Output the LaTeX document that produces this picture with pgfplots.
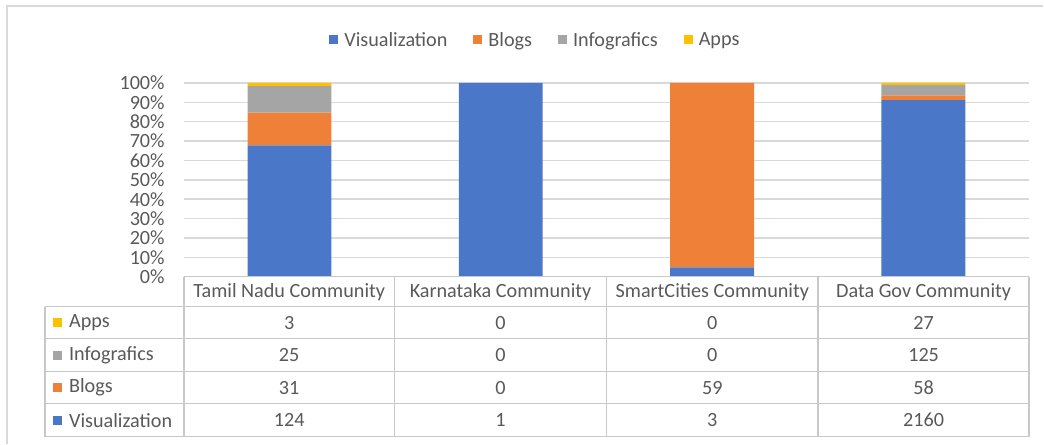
\documentclass[border=0pt]{standalone}
\usepackage{pgfplots}
\pgfplotsset{compat=1.18}
\usepackage{fontspec}
\setmainfont{Carlito}
\definecolor{cVis}{HTML}{4A77C8}
\definecolor{cBlog}{HTML}{EE8038}
\definecolor{cInfo}{HTML}{A5A5A5}
\definecolor{cApps}{HTML}{FFC000}
\definecolor{txt}{HTML}{595959}
\definecolor{gridc}{HTML}{D9D9D9}
\definecolor{tabc}{HTML}{C8C8C8}
\newcommand\fs{\fontsize{20.2}{23}\selectfont}
\begin{document}
\begin{tikzpicture}[x=1pt,y=1pt]
\path (0,0) rectangle (1044,444);
% outer frame (cropped on right and bottom)
\draw[gridc,line width=2pt] (7,0) -- (7,438) -- (1044,438);
\begin{axis}[
  at={(184pt,167pt)}, anchor=south west,
  scale only axis, width=846pt, height=194pt,
  xmin=-0.5, xmax=3.5, ymin=0, ymax=100,
  ybar stacked, bar width=84pt,
  xtick=\empty,
  ytick={0,10,...,100},
  yticklabel={\pgfmathprintnumber{\tick}\%},
  /pgf/number format/assume math mode=true,
  yticklabel style={font=\fs, text=txt, anchor=east, inner sep=0pt, xshift=-19pt},
  major tick length=0pt,
  ymajorgrids, grid style={gridc, line width=1.5pt},
  axis line style={draw=none},
  legend columns=4,
  legend style={at={(0.416,1.222)}, anchor=center, draw=none, fill=none,
    font=\fs, text=txt,
    /tikz/every odd column/.append style={column sep=4pt},
    /tikz/every even column/.append style={column sep=24pt}},
  legend image code/.code={\fill[#1,draw=none] (0pt,-4.5pt) rectangle (9pt,4.5pt);},
]
\addplot[fill=cVis, draw=none] coordinates {(0,67.76) (1,100) (2,4.84) (3,91.14)};
\addplot[fill=cBlog, draw=none] coordinates {(0,16.94) (1,0) (2,95.16) (3,2.45)};
\addplot[fill=cInfo, draw=none] coordinates {(0,13.66) (1,0) (2,0) (3,5.27)};
\addplot[fill=cApps, draw=none] coordinates {(0,1.64) (1,0) (2,0) (3,1.14)};
\legend{Visualization, Blogs, Infografics, Apps}
\end{axis}
% data table
\begin{scope}[tabc, line width=1.5pt]
\draw (184,167) -- (1030,167);
\draw (45,137) -- (1030,137);
\draw (45,105) -- (1030,105);
\draw (45,72) -- (1030,72);
\draw (45,40) -- (1030,40);
\draw (45,7) -- (1030,7);
\draw (45,137) -- (45,7);
\foreach \xx in {184,395,607,819,1030} {\draw (\xx,167) -- (\xx,7);}
\end{scope}
\begin{scope}[every node/.style={text=txt, font=\fs, inner sep=0pt}]
\node at (289.5,152) {Tamil Nadu Community};
\node at (501,152) {Karnataka Community};
\node at (713,152) {SmartCities Community};
\node at (924.5,152) {Data Gov Community};
% row labels with keys
\fill[cApps] (53,116.5) rectangle (62,125.5);
\node[anchor=west] at (69,121) {Apps};
\fill[cInfo] (53,84) rectangle (62,93);
\node[anchor=west] at (69,88.5) {Infografics};
\fill[cBlog] (53,51.5) rectangle (62,60.5);
\node[anchor=west] at (69,56) {Blogs};
\fill[cVis] (53,19) rectangle (62,28);
\node[anchor=west] at (69,23.5) {Visualization};
% values
\node at (289.5,121) {3};   \node at (501,121) {0}; \node at (713,121) {0};  \node at (924.5,121) {27};
\node at (289.5,88.5) {25}; \node at (501,88.5) {0}; \node at (713,88.5) {0}; \node at (924.5,88.5) {125};
\node at (289.5,56) {31};   \node at (501,56) {0}; \node at (713,56) {59};   \node at (924.5,56) {58};
\node at (289.5,23.5) {124};\node at (501,23.5) {1}; \node at (713,23.5) {3}; \node at (924.5,23.5) {2160};
\end{scope}
\end{tikzpicture}
\end{document}
